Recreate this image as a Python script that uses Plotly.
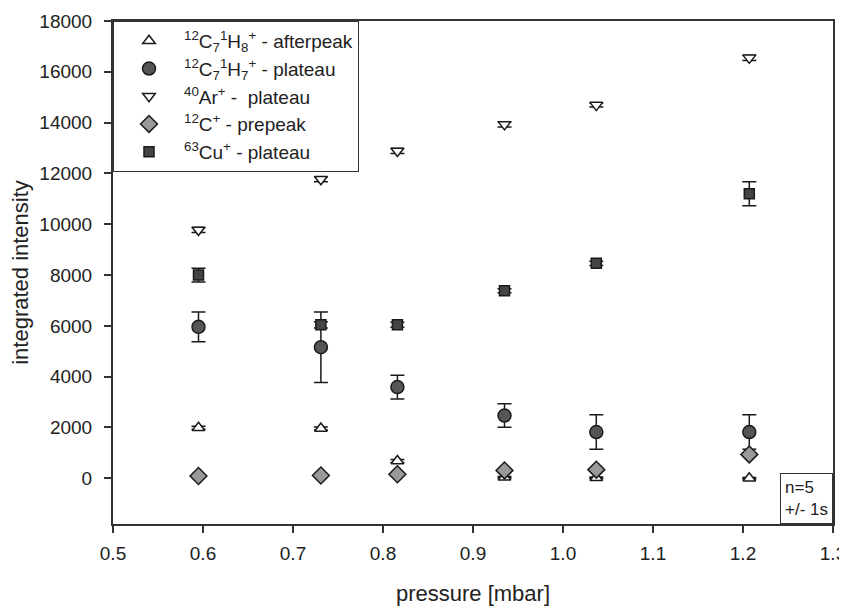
import plotly.graph_objects as go

pressure = [0.595, 0.731, 0.816, 0.935, 1.037, 1.207]

afterpeak = [1990, 1960, 680, 40, 20, 0]
afterpeak_err = [60, 60, 60, 30, 30, 30]

c7h7 = [5960, 5160, 3590, 2470, 1820, 1820]
c7h7_err = [590, 1390, 470, 460, 680, 680]

ar = [9770, 11770, 12880, 13930, 14690, 16550]
ar_err = [100, 100, 100, 100, 80, 100]

c_pre = [90, 110, 160, 310, 340, 940]
c_pre_err = [30, 30, 40, 40, 50, 60]

cu = [8000, 6040, 6040, 7380, 8460, 11200]
cu_err = [270, 120, 100, 80, 80, 470]

names = [
    "<sup>12</sup>C<sub>7</sub><sup>1</sup>H<sub>8</sub><sup>+</sup> - afterpeak",
    "<sup>12</sup>C<sub>7</sub><sup>1</sup>H<sub>7</sub><sup>+</sup> - plateau",
    "<sup>40</sup>Ar<sup>+</sup> -  plateau",
    "<sup>12</sup>C<sup>+</sup> - prepeak",
    "<sup>63</sup>Cu<sup>+</sup> - plateau",
]

xticks = [0.5, 0.6, 0.7, 0.8, 0.9, 1.0, 1.1, 1.2, 1.3]
yticks = [0, 2000, 4000, 6000, 8000, 10000, 12000, 14000, 16000, 18000]

series = [
    (afterpeak, afterpeak_err, "triangle-up", "white", 11),
    (c7h7, c7h7_err, "circle", "#555555", 13),
    (ar, ar_err, "triangle-down", "white", 11),
    (c_pre, c_pre_err, "diamond", "#999999", 13),
    (cu, cu_err, "square", "#444444", 10),
]

FONT = "Liberation Sans, Arial, sans-serif"

fig = go.Figure()
for (vals, err, sym, col, size), nm in zip(series, names):
    fig.add_trace(go.Scatter(
        x=pressure, y=vals, mode="markers", name=nm,
        marker=dict(symbol=sym, color=col, size=size,
                    line=dict(color="#1a1a1a", width=1.5)),
        error_y=dict(type="data", array=err, visible=True,
                     color="#1a1a1a", thickness=1.5, width=7),
    ))

fig.add_annotation(
    x=1, y=0, xref="paper", yref="paper", xanchor="right", yanchor="bottom",
    text="n=5<br>+/- 1s", showarrow=False, align="left",
    font=dict(family=FONT, size=17, color="#222"),
    bordercolor="#333", borderwidth=1, borderpad=4, bgcolor="white",
)

fig.update_layout(
    width=839, height=598,
    margin=dict(l=105, r=14, t=13, b=82),
    paper_bgcolor="white", plot_bgcolor="white",
    font=dict(family=FONT, size=19, color="#222"),
    showlegend=True,
    legend=dict(x=0, y=1, xanchor="left", yanchor="top",
                bordercolor="#333", borderwidth=1, bgcolor="white",
                font=dict(size=19), tracegroupgap=0, itemwidth=60),
    xaxis=dict(range=[0.5, 1.3], tickvals=xticks, tickformat=".1f",
               automargin=False,
               showgrid=False, zeroline=False, showline=True, linecolor="#333",
               linewidth=2, mirror=True, ticks="outside", ticklen=7,
               tickwidth=1.5, tickcolor="#333", ticklabelstandoff=4,
               title=dict(text="pressure [mbar]", font=dict(size=22), standoff=26)),
    yaxis=dict(range=[-1800, 18000], tickvals=yticks, tickformat="d",
               automargin=False,
               showgrid=False, zeroline=False, showline=True, linecolor="#333",
               linewidth=2, mirror=True, ticks="outside", ticklen=7,
               tickwidth=1.5, tickcolor="#333", ticklabelstandoff=8,
               title=dict(text="integrated intensity", font=dict(size=22), standoff=12)),
)

fig.write_html("out.html")
